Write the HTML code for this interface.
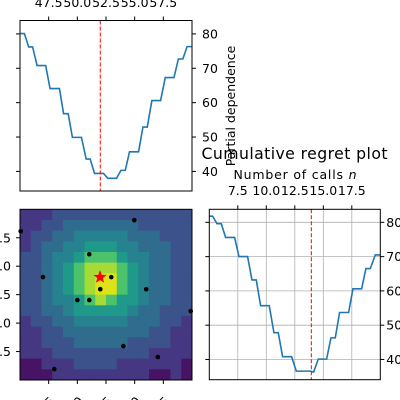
<!DOCTYPE html>
<html><head><meta charset="utf-8"><style>
html,body{margin:0;padding:0;background:#fff;width:400px;height:400px;overflow:hidden}
svg{display:block;font-family:"DejaVu Sans","Liberation Sans",sans-serif;overflow:hidden}
</style></head><body>
<svg id="c" width="400" height="400" viewBox="0 0 400 400"><defs><clipPath id="frame"><rect x="0" y="0" width="400" height="400"/></clipPath></defs></svg>
<script>
// ---- Data ----
const pdX = [45.06,45.38,45.76,46.1,46.49,47.24,47.62,48.44,48.8,49.2,49.57,50.36,50.77,51.12,51.5,52.28,52.66,53.42,53.8,54.18,54.55,55.34,55.72,56.1,56.5,57.26,57.67,58.43,58.81,59.2,59.57,59.95];
const pdY = [80.1,80.1,76.2,76.2,70.8,70.8,64.1,64.1,56.8,56.8,49.9,49.9,43.6,43.6,39.4,39.4,38.0,38.0,40.3,40.3,45.7,45.7,52.9,52.9,60.6,60.6,67.3,67.3,72.7,72.7,76.3,76.3];
const pdMarker = 52.0;
const pdTicks = ["47.5","50.0","52.5","55.0","57.5"];
const pdTickVals = [47.5,50,52.5,55,57.5];
const pdYTicks = [40,50,60,70,80];

const crX = [5.0,5.29,5.67,6.05,6.43,7.22,7.6,8.36,8.74,9.12,9.5,10.26,10.67,11.05,11.43,12.22,12.63,13.86,14.15,14.56,15.29,15.67,16.05,16.43,17.22,17.6,18.36,18.74,19.12,19.56,19.97];
const crY = [81.8,81.8,79.6,79.6,75.6,75.6,70.0,70.0,63.2,63.2,55.7,55.7,47.8,47.8,40.8,40.8,36.6,36.6,36.3,40.1,40.1,46.3,46.3,53.7,53.7,60.6,60.6,66.5,66.5,70.5,70.5];
const crMarker = 13.95;
const crTicks = ["7.5","10.0","12.5","15.0","17.5"];
const crTickVals = [7.5,10,12.5,15,17.5];
const crYTicks = [40,50,60,70,80];

const heatLevels = [
[1,1,1,2,2,2,2,2,2,2,2,2,2,2,2,2],
[1,1,2,2,3,3,3,3,3,3,3,2,2,2,2,2],
[1,2,2,3,3,4,4,4,4,4,3,3,3,2,2,2],
[1,2,3,3,4,4,5,5,5,4,4,3,3,3,2,2],
[2,2,3,4,4,5,6,6,6,5,4,4,3,3,2,2],
[2,2,3,4,5,6,7,7,7,6,5,4,3,3,2,2],
[2,2,3,4,5,6,7,8,8,6,5,4,3,3,2,2],
[2,2,3,4,5,6,7,8,8,6,5,4,3,3,2,2],
[2,2,3,4,4,5,6,7,6,5,5,4,3,3,2,2],
[2,2,3,3,4,5,5,5,5,5,4,3,3,2,2,2],
[1,2,2,3,3,4,4,4,4,4,3,3,3,2,2,1],
[1,1,2,2,3,3,3,3,3,3,3,3,2,2,1,1],
[1,1,2,2,2,3,3,3,3,3,2,2,2,2,1,1],
[1,1,1,2,2,2,2,2,2,2,2,2,1,1,1,1],
[0,0,1,1,1,2,2,2,2,1,1,1,1,1,1,0],
[0,0,0,1,1,1,1,1,1,1,1,1,0,0,1,0]];
const heatColors = ["#471365","#453781","#3b528b","#2f6c8e","#26828e","#1f998a","#4cc26c","#a5db36","#dde318"];
const ptX = [45.06,54.97,51.04,47.0,52.96,52.0,56.01,50.0,51.04,59.89,54.01,57.02,47.99];
const ptY = [58.07,59.04,56.05,54.04,54.04,52.98,52.98,52.02,52.02,51.05,47.98,47.02,45.96];
const bestX = [51.98];
const bestY = [54.04];
const hmTicks = ["47.5","50.0","52.5","55.0","57.5"];
const hmTickVals = [47.5,50,52.5,55,57.5];

// ---- helpers ----
const svg = document.getElementById('c');
const NS = "http://www.w3.org/2000/svg";
function mk(tag, attrs, parent){const e=document.createElementNS(NS,tag);for(const k in attrs)e.setAttribute(k,attrs[k]);(parent||svg).appendChild(e);return e;}
function lin(d0,d1,r0,r1){return v=>r0+(v-d0)/(d1-d0)*(r1-r0);}
const root = mk('g',{'clip-path':'url(#frame)'});



// ===== Top-left partial dependence =====
const A = {l:20,r:192,t:20.5,b:191};
const ax = lin(45,60,A.l,A.r), ay = lin(34.3,83.9,A.b,A.t);
const g1 = mk('g',{},root);


let d = pdX.map((x,i)=>(i?'L':'M')+ax(x).toFixed(2)+','+ay(pdY[i]).toFixed(2)).join('');
const l1 = mk('path',{d:d,fill:'none',stroke:'#1f77b4','stroke-width':1.6},g1);


const m1 = mk('line',{x1:ax(pdMarker),x2:ax(pdMarker),y1:A.t,y2:A.b,stroke:'#ff0000','stroke-width':1,'stroke-dasharray':'4,2'},g1);


mk('rect',{x:A.l,y:A.t,width:A.r-A.l,height:A.b-A.t,fill:'none',stroke:'#000','stroke-width':1},g1);
pdTickVals.forEach((v,i)=>{
  mk('line',{x1:ax(v),x2:ax(v),y1:A.t-4,y2:A.t,stroke:'#000'},g1);
  const t=mk('text',{x:ax(v),y:7,'font-size':12.5,'text-anchor':'middle'},g1);t.textContent=pdTicks[i];
  
  
});
pdYTicks.forEach(v=>{
  mk('line',{x1:A.l-4,x2:A.l,y1:ay(v),y2:ay(v),stroke:'#000'},g1);
  mk('line',{x1:A.r,x2:A.r+4,y1:ay(v),y2:ay(v),stroke:'#000'},g1);
  const t=mk('text',{x:A.r+10,y:ay(v)+4.5,'font-size':12.5},g1);t.textContent=v;
  
  
});
const yl = mk('text',{x:0,y:0,'font-size':12.5,'text-anchor':'middle',transform:'translate(235,106) rotate(-90)'},g1);
yl.textContent='Partial dependence';



// ===== Bottom-left heatmap =====
const H = {l:20,r:192,t:209.3,b:380};
const hx = lin(45,60,H.l,H.r), hy = lin(45,60,H.b,H.t);
const g2 = mk('g',{},root);


const n = heatLevels.length;
heatLevels.forEach((row,ri)=>row.forEach((lv,ci)=>{
  const x0=hx(45+ci*15/n), x1=hx(45+(ci+1)*15/n), y0=hy(60-ri*15/n), y1=hy(60-(ri+1)*15/n);
  const c=mk('rect',{x:x0,y:y0,width:x1-x0+0.4,height:y1-y0+0.4,fill:heatColors[lv]},g2);
  
  
}));
ptX.forEach((x,i)=>{
  const p=mk('circle',{cx:hx(x),cy:hy(ptY[i]),r:2.3,fill:'#000'},g2);
  
  
});
bestX.forEach((x,i)=>{
  const cx=hx(x), cy=hy(bestY[i]), R=7, r=2.9; let pts=[];
  for(let k=0;k<10;k++){const a=-Math.PI/2+k*Math.PI/5, rr=k%2?r:R; pts.push((cx+rr*Math.cos(a)).toFixed(2)+','+(cy+rr*Math.sin(a)).toFixed(2));}
  const s=mk('polygon',{points:pts.join(' '),fill:'#ff0000'},g2);
  
  
});
mk('rect',{x:H.l,y:H.t,width:H.r-H.l,height:H.b-H.t,fill:'none',stroke:'#000','stroke-width':1},g2);
hmTickVals.forEach((v,i)=>{
  mk('line',{x1:hx(v),x2:hx(v),y1:H.b,y2:H.b+4,stroke:'#000'},g2);
  const t=mk('text',{x:0,y:0,'font-size':12.5,'text-anchor':'end',transform:`translate(${hx(v)+7},${H.b+22}) rotate(-45)`},g2);t.textContent=hmTicks[i];
  
  
  mk('line',{x1:H.l-4,x2:H.l,y1:hy(v),y2:hy(v),stroke:'#000'},g2);
  const t2=mk('text',{x:11,y:hy(v)+4.5,'font-size':12.5,'text-anchor':'end'},g2);t2.textContent=hmTicks[i];
  
  
});

// ===== Bottom-right cumulative regret =====
const C = {l:209.3,r:380.3,t:209.3,b:379.7};
const cx_ = lin(5,20,C.l,C.r), cy_ = lin(34.1,83.8,C.b,C.t);
const g3 = mk('g',{},root);


crTickVals.forEach(v=>{const gl=mk('line',{x1:cx_(v),x2:cx_(v),y1:C.t,y2:C.b,stroke:'#b0b0b0','stroke-width':0.8},g3);
  
  });
crYTicks.forEach(v=>{const gl=mk('line',{x1:C.l,x2:C.r,y1:cy_(v),y2:cy_(v),stroke:'#b0b0b0','stroke-width':0.8},g3);
  
  });
d = crX.map((x,i)=>(i?'L':'M')+cx_(x).toFixed(2)+','+cy_(crY[i]).toFixed(2)).join('');
const l3 = mk('path',{d:d,fill:'none',stroke:'#1f77b4','stroke-width':1.6},g3);


const m3 = mk('line',{x1:cx_(crMarker),x2:cx_(crMarker),y1:C.t,y2:C.b,stroke:'#ff0000','stroke-width':1,'stroke-dasharray':'4,2'},g3);


mk('rect',{x:C.l,y:C.t,width:C.r-C.l,height:C.b-C.t,fill:'none',stroke:'#000','stroke-width':1},g3);
crTickVals.forEach((v,i)=>{
  mk('line',{x1:cx_(v),x2:cx_(v),y1:C.t-4,y2:C.t,stroke:'#000'},g3);
  const t=mk('text',{x:cx_(v),y:195,'font-size':12.5,'text-anchor':'middle'},g3);t.textContent=crTicks[i];
  
  
});
crYTicks.forEach(v=>{
  mk('line',{x1:C.l-4,x2:C.l,y1:cy_(v),y2:cy_(v),stroke:'#000'},g3);
  mk('line',{x1:C.r,x2:C.r+4,y1:cy_(v),y2:cy_(v),stroke:'#000'},g3);
  const t=mk('text',{x:C.r+6,y:cy_(v)+4.5,'font-size':12.5},g3);t.textContent=v;
  
  
});
const xt = mk('text',{x:233.5,y:179,'font-size':12.5,textLength:123},g3);
xt.innerHTML='Number of calls <tspan font-style="italic">n</tspan>';


const tt = mk('text',{x:201.5,y:159,'font-size':15.7,textLength:186},g3);
tt.textContent='Cumulative regret plot';


</script>
</body></html>
